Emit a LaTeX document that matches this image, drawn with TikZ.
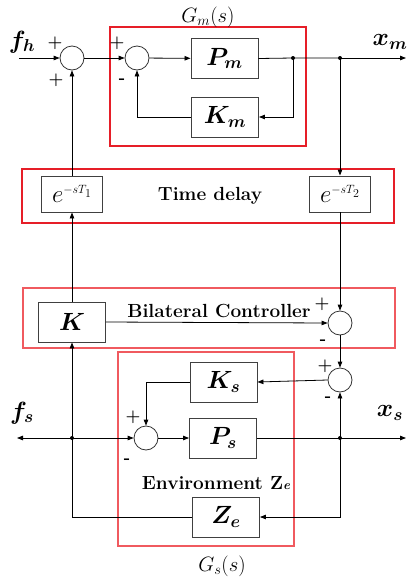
\documentclass[tikz,border=0pt]{standalone}
\usetikzlibrary{arrows.meta}
\definecolor{rbox}{RGB}{230,30,40}
\definecolor{rlite}{RGB}{240,90,95}
\begin{document}
\begin{tikzpicture}[x=1pt,y=-1pt,
  blk/.style={draw=black!75,line width=0.9pt,minimum width=67pt,minimum height=40pt,inner sep=0pt,font=\fontsize{25}{27}\selectfont\boldmath},
  dblk/.style={draw=black!75,line width=0.9pt,minimum width=61pt,minimum height=36pt,inner sep=0pt,font=\fontsize{24}{26}\selectfont},
  sumn/.style={draw=black!80,line width=0.8pt,circle,minimum size=24pt,inner sep=0pt},
  arr/.style={line width=0.8pt,-{Triangle[length=6pt,width=4.5pt]}},
  ln/.style={line width=0.8pt},
  dotn/.style={circle,fill=black,inner sep=0pt,minimum size=4pt},
  sgn/.style={font=\fontsize{17}{17}\selectfont\bfseries,inner sep=0pt},
  io/.style={font=\fontsize{26}{26}\selectfont\boldmath,inner sep=0pt},
  redbox/.style={draw=rbox,line width=1.6pt},
  txt/.style={font=\fontsize{19}{20}\selectfont\bfseries,inner sep=0pt}
]
\useasboundingbox (0,0) rectangle (408,579);
% red frames
\draw[redbox] (110,27) rectangle (306,146);
\draw[redbox] (22,169) rectangle (394,223);
\draw[draw=rlite,line width=1.1pt] (23,288) rectangle (395,348);
\draw[draw=rlite,line width=1.2pt] (118,352) rectangle (294,546);
% nodes
\node[sumn] (s1) at (72,58) {};
\node[sumn] (s2) at (137,58) {};
\node[blk] (Pm) at (224.5,58.5) {$P_m$};
\node[blk] (Km) at (225,117) {$K_m$};
\node[dotn] (d1) at (293,58) {};
\node[dotn] (d2) at (340,58) {};
\coordinate (fhin) at (19,58);
\coordinate (xmout) at (406,58);
\node[dblk] (T1) at (72,194) {$e^{\scriptscriptstyle -sT_1}$};
\node[dblk] (T2) at (340,194) {$e^{\scriptscriptstyle -sT_2}$};
\node[txt] (td) at (210,196) {Time delay};
\node[blk] (K) at (72,322) {$K$};
\node[txt,font=\fontsize{19}{20}\selectfont\bfseries] (bc) at (219,311) {Bilateral Controller};
\node[sumn] (s3) at (340,323) {};
\node[sumn] (s4) at (340,380) {};
\node[blk] (Ks) at (223.5,382) {$K_s$};
\node[sumn] (s5) at (146,438) {};
\node[blk] (Ps) at (223,438) {$P_s$};
\node[dotn] (dL) at (72,438) {};
\node[dotn] (d4) at (340,438) {};
\coordinate (fsout) at (17,438);
\coordinate (xsout) at (406,438);
\node[blk] (Ze) at (226,517) {$Z_e$};
\node[txt] (env) at (216,483) {Environment Z{\fontsize{13}{13}\selectfont\itshape e}};
% labels
\node[font=\fontsize{21}{21}\selectfont,inner sep=0pt] (gm) at (208,17) {$G_m(s)$};
\node[font=\fontsize{21}{21}\selectfont,inner sep=0pt] (gs) at (222,566) {$G_s(s)$};
\node[io] (fh) at (22,42) {$f_h$};
\node[io] (xm) at (390,42) {$x_m$};
\node[io] (fs) at (22,413) {$f_s$};
\node[io] (xs) at (390,413) {$x_s$};
\node[sgn] at (55,43) {+};
\node[sgn] at (56,80) {+};
\node[sgn] at (117,43) {+};
\node[sgn] at (122,81) {-};
\node[sgn] at (322,304) {+};
\node[sgn] at (323,342) {-};
\node[sgn] at (325,366) {+};
\node[sgn] at (328,399) {-};
\node[sgn] at (133,417) {+};
\node[sgn] at (127,461) {-};
% connectors
\draw[arr] (fhin) -- (s1);
\draw[arr] (s1) -- (s2);
\draw[arr] (s2) -- (Pm);
\draw[ln] (Pm.east) -- (d1.center) -- (d2.center);
\draw[arr] (d2.center) -- (xmout);
\draw[arr] (d1.center) |- (Km.east);
\draw[arr] (Km.west) -| (s2.south);
\draw[arr] (T1.north) -- (s1.south);
\draw[arr] (d2.center) -- (T2.north);
\draw[arr] (T2.south) -- (s3.north);
\draw[arr] (K.east) -- (s3.west);
\draw[arr] (s3.south) -- (s4.north);
\draw[arr] (s4.west) -- (Ks.east);
\draw[arr] (Ks.west) -| (s5.north);
\draw[arr] (dL.center) -- (fsout);
\draw[arr] (dL.center) -- (s5.west);
\draw[arr] (dL.center) -- (K.south);
\draw[ln] (Ze.west) -| (dL.center);
\draw[arr] (K.north) -- (T1.south);
\draw[arr] (s5.east) -- (Ps.west);
\draw[ln] (Ps.east) -- (d4.center);
\draw[arr] (d4.center) -- (xsout);
\draw[arr] (d4.center) -- (s4.south);
\draw[arr] (d4.center) |- (Ze.east);
\end{tikzpicture}
\end{document}
